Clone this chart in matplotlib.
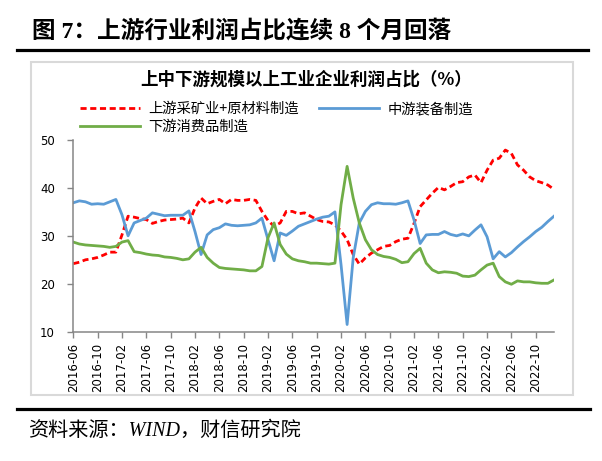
'''Profit share of upstream / midstream / downstream industries'''

import matplotlib
matplotlib.use('Agg')
import matplotlib.pyplot as plt
from matplotlib.lines import Line2D
import numpy as np
import pandas as pd

plt.rcParams['font.family'] = ['Noto Sans CJK SC', 'DejaVu Sans']

months = pd.period_range('2016-06', '2023-01', freq='M').strftime('%Y-%m')

upstream = [
    24.2, 24.5, 25.0, 25.2, 25.5, 26.0, 26.6, 26.6, 30.2, 34.1,
    33.9, 33.6, 33.4, 32.6, 33.0, 33.3, 33.4, 33.5, 33.7, 32.7,
    35.8, 37.9, 36.7, 37.2, 37.6, 36.7, 37.6, 37.4, 37.4, 37.6,
    37.4, 35.1, 33.2, 32.0, 32.7, 35.1, 35.1, 34.6, 34.8, 34.1,
    33.4, 33.0, 32.9, 32.3, 31.0, 29.2, 26.1, 24.1, 25.4, 26.4,
    27.1, 27.8, 28.0, 28.8, 29.3, 29.5, 32.6, 36.1, 37.5, 38.9,
    40.1, 39.6, 40.3, 41.1, 41.3, 42.3, 42.7, 41.1, 43.7, 45.8,
    46.2, 47.9, 47.2, 44.8, 43.7, 42.3, 41.5, 41.1, 40.6, 39.7,
]
midstream = [
    36.9, 37.3, 37.1, 36.6, 36.7, 36.6, 37.1, 37.6, 34.4, 30.0,
    32.7, 33.2, 33.7, 34.8, 34.5, 34.2, 34.3, 34.3, 34.3, 35.2,
    30.9, 26.1, 30.2, 31.3, 31.7, 32.5, 32.2, 32.1, 32.2, 32.3,
    32.7, 33.7, 29.2, 24.8, 30.6, 30.1, 31.0, 32.0, 32.5, 33.0,
    33.5, 33.9, 34.1, 35.0, 24.0, 11.5, 25.4, 32.7, 35.1, 36.5,
    36.9, 36.7, 36.7, 36.6, 36.9, 37.3, 33.3, 28.4, 30.2, 30.3,
    30.3, 30.9, 30.3, 30.0, 30.4, 30.0, 31.2, 32.3, 29.8, 25.2,
    26.7, 25.6, 26.5, 27.7, 28.8, 29.8, 30.9, 31.8, 33.0, 34.1,
]
downstream = [
    28.7, 28.3, 28.1, 28.0, 27.9, 27.8, 27.6, 27.8, 28.7, 29.0,
    26.7, 26.5, 26.2, 26.0, 25.9, 25.6, 25.5, 25.3, 25.0, 25.2,
    26.6, 27.6, 25.5, 24.3, 23.4, 23.2, 23.1, 23.0, 22.9, 22.7,
    22.7, 23.6, 29.6, 32.7, 28.2, 26.2, 25.2, 24.8, 24.6, 24.3,
    24.3, 24.2, 24.1, 24.3, 36.5, 44.5, 37.9, 32.7, 29.2, 27.1,
    26.1, 25.7, 25.5, 25.1, 24.4, 24.6, 26.3, 27.4, 24.3, 22.9,
    22.3, 22.5, 22.4, 22.2, 21.6, 21.5, 21.8, 22.9, 23.9, 24.3,
    21.5, 20.4, 19.9, 20.6, 20.4, 20.4, 20.2, 20.1, 20.1, 20.8,
]
labels = ['上游采矿业+原材料制造', '中游装备制造', '下游消费品制造']
colors = ['#FF0000', '#5B9BD5', '#70AD47']

SERIF_CJK = ['Liberation Serif', 'Noto Sans CJK SC']


def main():
    fig = plt.figure(figsize=(6.02, 4.61), dpi=100)
    W, H = 602.0, 461.0

    # page header / footer
    fig.text(32 / W, 1 - 31 / H, '图 7：上游行业利润占比连续 8 个月回落',
             family=SERIF_CJK, weight='bold', fontsize=17, va='center')
    fig.add_artist(Line2D([17 / W, 588 / W], [1 - 50 / H] * 2, color='black', lw=2.3))
    fig.add_artist(Line2D([17 / W, 590 / W], [1 - 409 / H] * 2, color='black', lw=2.3))
    fig.text(28 / W, 1 - 431 / H, '资料来源：WIND，财信研究院',
             family=SERIF_CJK, style='italic', fontsize=14.5, va='center')

    # chart frame
    fig.add_artist(plt.Rectangle((31 / W, 1 - 395 / H), 542 / W, 333 / H,
                                 fill=False, edgecolor='#D9D9D9', lw=1.5))
    fig.text(306 / W, 1 - 80 / H, '上中下游规模以上工业企业利润占比（%）',
             weight='bold', fontsize=12.6, ha='center', va='center')

    ax = fig.add_axes([73.3 / W, 1 - 331.7 / H, 480.7 / W, 191.7 / H])
    x = np.arange(len(months))
    l1, = ax.plot(x, upstream, color=colors[0], lw=2.0, ls=(0, (2.2, 1.3)))
    l2, = ax.plot(x, midstream, color=colors[1], lw=2.0)
    l3, = ax.plot(x, downstream, color=colors[2], lw=2.0)

    ax.set_xlim(0, len(months) - 1)
    ax.set_ylim(10, 50)
    ax.set_yticks([10, 20, 30, 40, 50])
    ax.set_xticks(x[::4])
    ax.set_xticklabels(months[::4], rotation=90, family='DejaVu Sans', fontsize=8.5)
    for t in ax.get_yticklabels():
        t.set_family('DejaVu Sans')
    ax.tick_params(axis='y', labelsize=8.5, length=4.3, width=1, color='#868686', pad=9)
    ax.tick_params(axis='x', length=4, width=1, color='#868686', pad=4)
    for s in ['top', 'right']:
        ax.spines[s].set_visible(False)
    for s in ['left', 'bottom']:
        ax.spines[s].set_color('#868686')
        ax.spines[s].set_linewidth(1.1)

    fig.legend([l1, l3, l2], [labels[0], labels[2], labels[1]], ncol=2,
               loc='upper left', bbox_to_anchor=(80 / W, 1 - 102 / H),
               frameon=False, fontsize=10.3, handlelength=4.2, handletextpad=0.55,
               columnspacing=1.45, labelspacing=0.25, borderaxespad=0, borderpad=0)

    fig.savefig('out.png', dpi=100)


if __name__ == '__main__':
    main()
